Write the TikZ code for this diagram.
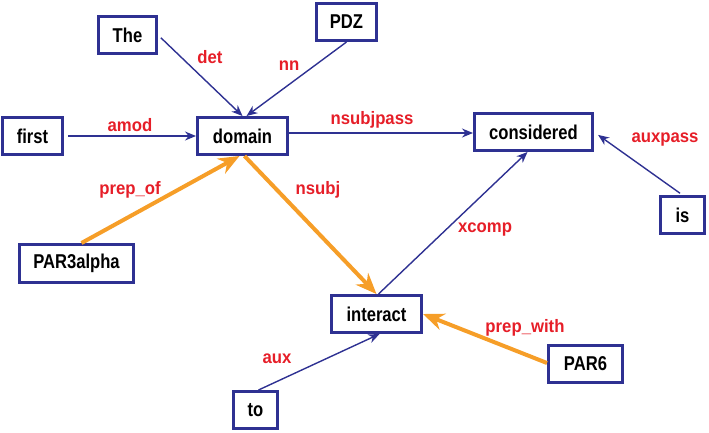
\documentclass[tikz,border=0pt]{standalone}
\usepackage{fontspec}
\setmainfont{Liberation Sans}[FakeStretch=0.83]
\newfontfamily\labfont{Liberation Sans}[FakeStretch=0.93]
\usetikzlibrary{arrows.meta}
\definecolor{boxblue}{RGB}{46,49,146}
\definecolor{labred}{RGB}{230,30,40}
\definecolor{edgeorange}{RGB}{246,158,40}
\tikzset{
  word/.style={draw=boxblue, line width=3pt, fill=white, minimum height=37pt, inner sep=0pt,
    font=\fontsize{20}{24}\selectfont\bfseries, text=black},
  lab/.style={text=labred, inner sep=0pt, font=\labfont\fontsize{18}{22}\selectfont\bfseries},
  bedge/.style={draw=boxblue, line width=1.4pt, -{Stealth[length=11pt,width=9pt]}},
  oedge/.style={draw=edgeorange, line width=4pt, -{Stealth[length=21pt,width=17pt]}},
}
\begin{document}
\begin{tikzpicture}[x=1pt,y=-1pt]
\useasboundingbox (0,0) rectangle (709,432);
% nodes
\node[word, minimum width=58pt] (The) at (127.5,35) {The};
\node[word, minimum width=60pt] (PDZ) at (346.5,22) {PDZ};
\node[word, minimum width=60pt] (first) at (32.5,136) {first};
\node[word, minimum width=90pt] (domain) at (242.5,136) {domain};
\node[word, minimum width=118pt] (considered) at (533.5,132) {considered};
\node[word, minimum width=44pt] (is) at (682.5,215) {is};
\node[word, minimum width=114pt, minimum height=38pt] (PAR3) at (76.5,263.5) {PAR3alpha};
\node[word, minimum width=90pt] (interact) at (376.5,314) {interact};
\node[word, minimum width=44pt] (to) at (255.5,410) {to};
\node[word, minimum width=74pt] (PAR6) at (585.5,364) {PAR6};
% edges
\draw[bedge, shorten <=4pt] (The.east) -- (domain.north);
\draw[bedge] (PDZ.south) -- ([xshift=4pt]domain.north);
\draw[bedge, shorten <=4pt] (first.east) -- (domain.west);
\draw[bedge] ([yshift=3pt]domain.east) -- ([yshift=-1pt]considered.west);
\draw[bedge, shorten <=3pt, shorten >=5pt] (is.north) -- (considered.east);
\draw[bedge] ([xshift=2pt]interact.north) -- ([xshift=-6pt]considered.south);
\draw[bedge] ([xshift=3pt]to.north) -- ([xshift=3pt]interact.south);
\draw[oedge] ([xshift=5pt]PAR3.north) -- ([xshift=-3pt]domain.south);
\draw[oedge] ([xshift=2pt]domain.south) -- (interact.north);
\draw[oedge] ([yshift=1pt]PAR6.west) -- (interact.east);
% labels
\node[lab] (ldet) at (210,57) {det};
\node[lab] (lnn) at (289,66) {nn};
\node[lab] (lamod) at (130,125) {amod};
\node[lab] (lnsubjpass) at (372,120) {nsubjpass};
\node[lab] (lauxpass) at (665,140) {auxpass};
\node[lab] (lprepof) at (130,190) {prep\_of};
\node[lab] (lnsubj) at (318,190) {nsubj};
\node[lab] (lxcomp) at (485,230) {xcomp};
\node[lab] (lprepwith) at (525,328) {prep\_with};
\node[lab] (laux) at (277,359) {aux};
\end{tikzpicture}
\end{document}
